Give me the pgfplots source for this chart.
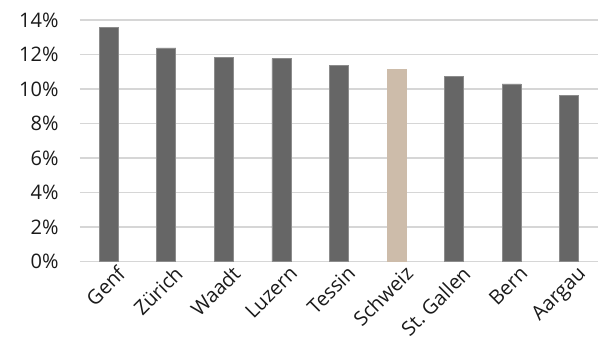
\documentclass[border=0pt]{standalone}
\usepackage{pgfplots}
\pgfplotsset{compat=1.18}
\usepackage{fontspec}
\setmainfont{Open Sans}
\definecolor{bargray}{HTML}{666666}
\definecolor{baredge}{HTML}{8C8C8C}
\definecolor{swiss}{HTML}{CDBCAA}
\definecolor{gridc}{HTML}{D6D6D6}
\definecolor{txt}{HTML}{1A1A1A}
\begin{document}
\begin{tikzpicture}[x=1bp,y=1bp]
\begin{axis}[
  at={(0,0)}, anchor=south west,
  scale only axis,
  width=518bp, height=241.5bp,
  xmin=-0.5, xmax=8.5,
  ymin=0, ymax=14,
  ybar, bar width=19bp, bar shift=0pt,
  axis line style={draw=none},
  major tick style={draw=none},
  ymajorgrids,
  grid style={color=gridc, line width=1.8bp},
  ytick={0,2,4,6,8,10,12,14},
  yticklabels={0\%,2\%,4\%,6\%,8\%,10\%,12\%,14\%},
  xtick={0,1,2,3,4,5,6,7,8},
  xticklabels={Genf,Zürich,Waadt,Luzern,Tessin,Schweiz,St.\ Gallen,Bern,Aargau},
  ticklabel style={font=\fontsize{20bp}{24bp}\selectfont, text=txt},
  yticklabel style={xshift=-18bp},
  xticklabel style={rotate=45, anchor=north east, xshift=7bp, yshift=-3bp, inner sep=1bp},
  /pgf/number format/assume math mode=true,
]
\addplot[fill=bargray, draw=baredge, line width=0.75bp] coordinates {
  (0,13.59) (1,12.38) (2,11.81) (3,11.76) (4,11.37) (6,10.74) (7,10.29) (8,9.63)
};
\addplot[fill=swiss, draw=swiss, line width=0.75bp] coordinates {
  (5,11.16)
};
\end{axis}
\pgfresetboundingbox
\useasboundingbox (-80bp,-95.5bp) rectangle (518bp,261.5bp);
\end{tikzpicture}
\end{document}
